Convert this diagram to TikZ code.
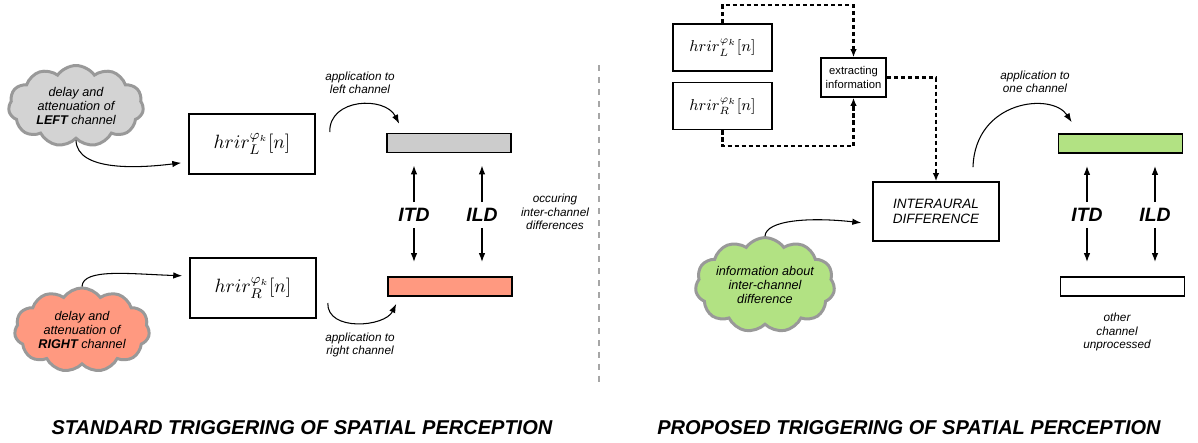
\documentclass[tikz,border=0pt]{standalone}
\usepackage[no-math]{fontspec}
\setmainfont{Liberation Sans}
\usetikzlibrary{arrows.meta, positioning, shapes.symbols}

\definecolor{cloudgray}{HTML}{D3D3D3}
\definecolor{bargray}{HTML}{CCCCCC}
\definecolor{rimgray}{HTML}{999999}
\definecolor{salmon}{HTML}{FF9980}
\definecolor{lightgreen}{HTML}{B2E283}

\begin{document}
\begin{tikzpicture}[
    x=0.02cm, y=-0.02cm,
    hrir/.style={draw, line width=0.9pt, minimum width=2.52cm, minimum height=1.2cm, font=\fontsize{11}{13}\selectfont},
    smallhrir/.style={draw, line width=0.9pt, minimum width=1.98cm, minimum height=0.94cm, font=\fontsize{9}{11}\selectfont},
    bar/.style={draw, line width=0.9pt, minimum width=2.48cm, minimum height=0.38cm},
    bubble/.style={cloud, cloud puffs=11, cloud puff arc=110, aspect=1.7, minimum width=2.7cm, minimum height=1.62cm, draw=rimgray, line width=1.7pt, inner sep=-1pt, align=center, font=\fontsize{7.2}{8.2}\selectfont\itshape},
    note/.style={align=center, font=\fontsize{6.7}{7.7}\selectfont\itshape},
    diff/.style={font=\fontsize{11}{13}\selectfont\bfseries\itshape},
    title/.style={font=\fontsize{11.4}{13}\selectfont\bfseries\itshape},
    arrow/.style={-{Latex[length=1.8mm, width=1.3mm]}, line width=0.6pt},
    difarrow/.style={-{Latex[length=1.8mm, width=1.3mm]}, line width=0.85pt},
    dasharrow/.style={-{Latex[length=1.6mm, width=1.3mm]}, line width=1.15pt, dash pattern=on 2.4pt off 1.6pt},
    divider/.style={draw=black!35, line width=1.1pt, dash pattern=on 3.4pt off 3.4pt}
]
\useasboundingbox (0,0) rectangle (1198,443);

% standard triggering
\node[hrir] (hrirL) at (252,144) {$hrir_{L}^{\varphi_k}[n]$};
\node[hrir] (hrirR) at (253,288) {$hrir_{R}^{\varphi_k}[n]$};
\node[bubble, fill=cloudgray] (cloudL) at (76,106) {delay and\\attenuation of\\\textbf{LEFT} channel};
\node[bubble, fill=salmon] (cloudR) at (82,330) {delay and\\attenuation of\\\textbf{RIGHT} channel};

\node[bar, fill=bargray] (barL) at (449,143) {};
\node[bar, fill=salmon] (barR) at (450,286.5) {};
\node[diff] (itdA) at (414,215) {ITD};
\node[diff] (ildA) at (482,215) {ILD};

\node[note] (occur) at (555,212) {occuring\\inter-channel\\differences};
\node[note] (appL) at (360,83) {application to\\left channel};
\node[note] (appR) at (360,345) {application to\\right channel};

\draw[arrow, shorten >=0.14cm] (cloudL.south) .. controls (77,172) and (140,168) .. ([yshift=-0.36cm]hrirL.west);
\draw[arrow, shorten >=0.14cm] (cloudR.north) .. controls (83,268) and (130,274) .. ([yshift=0.24cm]hrirR.west);
\draw[arrow] ([shift={(0.28cm,0.24cm)}]hrirL.east) .. controls (329,98) and (385,96) .. ([shift={(0.26cm,0.18cm)}]barL.north west);
\draw[arrow] ([shift={(0.22cm,-0.3cm)}]hrirR.east) .. controls (327,332) and (385,327) .. ([shift={(0.18cm,-0.14cm)}]barR.south west);

\draw[difarrow, shorten >=0.24cm] (itdA.north) -- (itdA |- barL.south);
\draw[difarrow, shorten >=0.28cm] (itdA.south) -- (itdA |- barR.north);
\draw[difarrow, shorten >=0.24cm] (ildA.north) -- (ildA |- barL.south);
\draw[difarrow, shorten >=0.28cm] (ildA.south) -- (ildA |- barR.north);

\draw[divider] (599,65) -- (599,385);

% proposed triggering
\node[smallhrir] (hrirL2) at (722.5,47.5) {$hrir_{L}^{\varphi_k}[n]$};
\node[smallhrir, below=0.2cm of hrirL2] (hrirR2) {$hrir_{R}^{\varphi_k}[n]$};
\node[draw, line width=0.9pt, minimum width=1.3cm, minimum height=0.78cm, inner sep=1pt, align=center, font=\fontsize{6.4}{7.6}\selectfont] (extract) at (853.5,77.5) {extracting\\information};
\node[draw, line width=0.9pt, minimum width=2.52cm, minimum height=1.18cm, align=center, font=\fontsize{7.7}{8.2}\selectfont\itshape] (inter) at (936,211.5) {INTERAURAL\\DIFFERENCE};
\node[bubble, fill=lightgreen] (cloudG) at (765,285) {information about\\inter-channel\\difference};

\node[bar, fill=lightgreen] (barG) at (1120.5,143.5) {};
\node[bar, fill=white] (barW) at (1122.5,286.5) {};
\node[diff] (itdB) at (1087,215) {ITD};
\node[diff] (ildB) at (1155,215) {ILD};

\node[note] (appOne) at (1035,82) {application to\\one channel};
\node[note] (other) at (1117,332) {other\\channel\\unprocessed};

\draw[dasharrow] (hrirL2.north) -- ++(0,-18) -| (extract.north);
\draw[dasharrow] (hrirR2.south) -- ++(0,16) -| (extract.south);
\draw[dasharrow] (extract.east) -| (inter.north);

\draw[arrow, shorten >=0.22cm] (cloudG.north) .. controls (766,220) and (810,217) .. ([yshift=-0.25cm]inter.west);
\draw[arrow] ([shift={(0.74cm,0.28cm)}]inter.north) .. controls (975,100) and (1052,92) .. ([shift={(0.28cm,0.22cm)}]barG.north west);

\draw[difarrow, shorten >=0.24cm] (itdB.north) -- (itdB |- barG.south);
\draw[difarrow, shorten >=0.28cm] (itdB.south) -- (itdB |- barW.north);
\draw[difarrow, shorten >=0.24cm] (ildB.north) -- (ildB |- barG.south);
\draw[difarrow, shorten >=0.28cm] (ildB.south) -- (ildB |- barW.north);

% titles
\node[title] (stdTitle) at (302,428) {STANDARD TRIGGERING OF SPATIAL PERCEPTION};
\node[title] (propTitle) at (909,428) {PROPOSED TRIGGERING OF SPATIAL PERCEPTION};
\end{tikzpicture}
\end{document}
